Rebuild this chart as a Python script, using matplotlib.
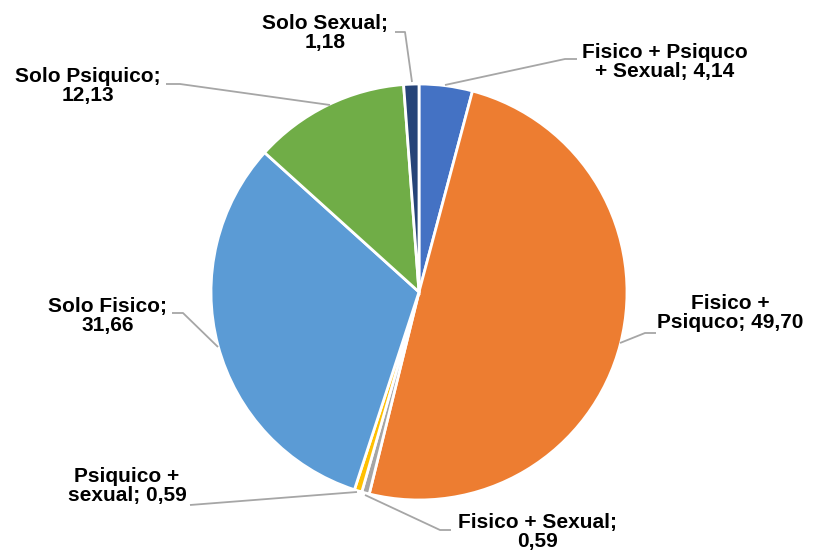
import matplotlib
matplotlib.use("Agg")
import matplotlib.pyplot as plt

labels = ["Fisico + Psiquco\n+ Sexual; 4,14", "Fisico +\nPsiquco; 49,70", "Fisico + Sexual;\n0,59",
          "Psiquico +\nsexual; 0,59", "Solo Fisico;\n31,66", "Solo Psiquico;\n12,13", "Solo Sexual;\n1,18"]
values = [4.14, 49.70, 0.59, 0.59, 31.66, 12.13, 1.18]
colors = ["#4472C4", "#ED7D31", "#A5A5A5", "#FFC000", "#5B9BD5", "#70AD47", "#264478"]

W, H = 814, 552
fig = plt.figure(figsize=(W / 100, H / 100), dpi=100)
ax = fig.add_axes([0, 0, 1, 1])
ax.set_xlim(0, W)
ax.set_ylim(0, H)
ax.set_aspect("equal")
ax.axis("off")

cx, cy, r = 419, H - 292, 208
ax.pie(values, colors=colors, startangle=90, counterclock=False, center=(cx, cy), radius=r,
       wedgeprops=dict(edgecolor="white", linewidth=2.0), frame=True)
ax.set_xlim(0, W)
ax.set_ylim(0, H)
ax.axis("off")

# label positions (pixel coords, y from top) and leader lines
text_pos = [(665, 62), (730, 313), (537, 532), (127, 486), (108, 316), (88, 86), (325, 33)]
leaders = [
    [(445, 85), (565, 59), (577, 59)],
    [(620, 343), (645, 333), (656, 333)],
    [(365, 495), (440, 530), (451, 530)],
    [(357, 492), (190, 505)],
    [(218, 347), (183, 313), (172, 313)],
    [(330, 105), (180, 84), (166, 84)],
    [(412, 82), (405, 32), (395, 32)],
]
for (tx, ty), lab, ln in zip(text_pos, labels, leaders):
    ax.text(tx, H - ty, lab, ha="center", va="center", fontsize=15, fontweight="bold",
            family="Liberation Sans", linespacing=1.02, color="black")
    xs = [p[0] for p in ln]
    ys = [H - p[1] for p in ln]
    ax.plot(xs, ys, color="#A6A6A6", lw=1.3, solid_capstyle="butt")

fig.savefig("out.png", dpi=100)
